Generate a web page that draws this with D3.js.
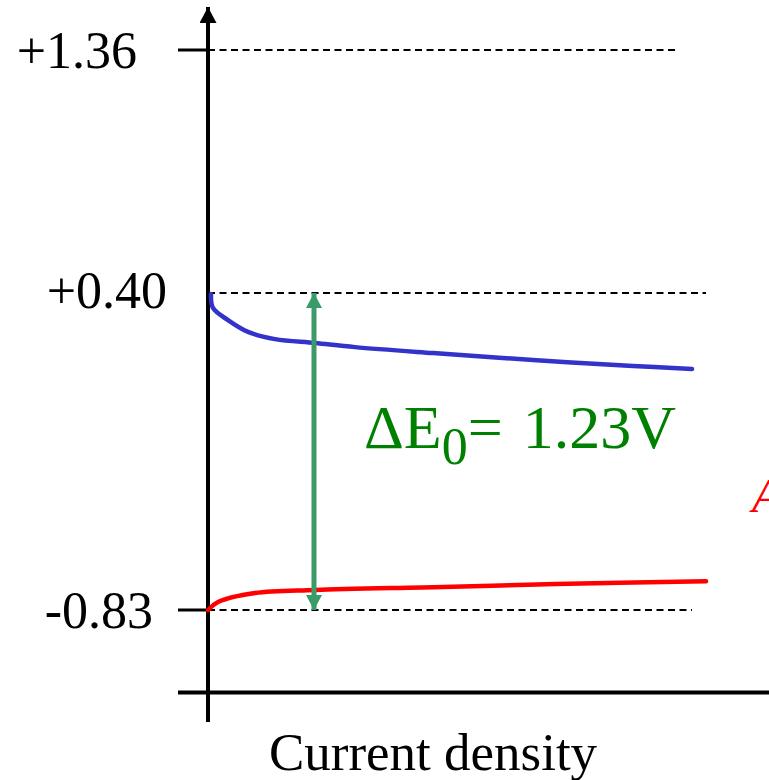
<!DOCTYPE html>
<html>
<head>
<meta charset="utf-8">
<script src="https://cdn.jsdelivr.net/npm/d3@7"></script>
<style>
  html, body { margin: 0; padding: 0; background: #fff; overflow: hidden; }
  svg { display: block; font-family: "Liberation Serif", "Times New Roman", serif; }
</style>
</head>
<body>
<div id="chart"></div>
<script>
// potential levels (V) shown on the y axis
const levels = [1.36, 0.40, -0.83];
const levelLabels = ['+1.36', '+0.40', '-0.83'];
// how far each dashed guide runs (current density, arbitrary units)
const levelGuideEnd = [94, 99.6, 96.8];
const levelHasTick = [true, false, true];

// cathode polarisation curve (blue): current density vs potential
const blueX = [0.6, 1.0, 4.0, 8.0, 13.4, 21.4, 29.4, 45, 65, 85, 96.8];
const blueY = [0.396, 0.342, 0.295, 0.249, 0.221, 0.206, 0.190, 0.167, 0.140, 0.117, 0.105];

// anode polarisation curve (red)
const redX = [0, 2.0, 9.4, 21.4, 47, 69.6, 99.6];
const redY = [-0.83, -0.799, -0.764, -0.752, -0.741, -0.729, -0.718];

// equilibrium gap arrow
const gapX = 21.2;
const gapFrom = 0.40, gapTo = -0.83;
const gapLabel = '1.23V';

const W = 769, H = 780;
const svg = d3.select('#chart').append('svg').attr('width', W).attr('height', H);

// piecewise scale so the three level lines sit where the reference has them
const y = d3.scaleLinear().domain([-0.83, 0.40, 1.36]).range([610, 293, 50]);
const x = d3.scaleLinear().domain([0, 100]).range([208, 708]);

const defs = svg.append('defs');
function marker(id, color, w, h) {
  defs.append('marker').attr('id', id)
    .attr('viewBox', `0 0 ${h} ${w}`).attr('refX', h).attr('refY', w / 2)
    .attr('markerWidth', h).attr('markerHeight', w).attr('markerUnits', 'userSpaceOnUse')
    .attr('orient', 'auto-start-reverse')
    .append('path').attr('d', `M0,0L${h},${w / 2}L0,${w}Z`).attr('fill', color);
}
marker('axisHead', '#000', 17, 16);
marker('gapHead', '#3a9a68', 16, 15);

// dashed guides
svg.append('g').selectAll('line').data(levels).join('line')
  .attr('x1', x(0)).attr('x2', (d, i) => x(levelGuideEnd[i]))
  .attr('y1', d => y(d)).attr('y2', d => y(d))
  .attr('stroke', '#000').attr('stroke-width', 2).attr('stroke-dasharray', '7,4.5');

// short solid ticks
svg.append('g').selectAll('line').data(levels.filter((d, i) => levelHasTick[i])).join('line')
  .attr('x1', x(0) - 30).attr('x2', x(0))
  .attr('y1', d => y(d)).attr('y2', d => y(d))
  .attr('stroke', '#000').attr('stroke-width', 3);

// tick labels (hand nudged like the original slide)
const labelNudge = [{ dx: -41, dy: 18 }, { dx: -11, dy: 15 }, { dx: -25, dy: 18 }];
svg.append('g').selectAll('text').data(levels).join('text')
  .attr('x', (d, i) => x(0) - 30 + labelNudge[i].dx)
  .attr('y', (d, i) => y(d) + labelNudge[i].dy)
  .attr('text-anchor', 'end').attr('font-size', 52).attr('fill', '#000')
  .text((d, i) => levelLabels[i]);

// axes
svg.append('line')
  .attr('x1', x(0)).attr('x2', x(0)).attr('y1', y(-1.265)).attr('y2', y(1.53))
  .attr('stroke', '#000').attr('stroke-width', 4).attr('marker-end', 'url(#axisHead)');
svg.append('line')
  .attr('x1', x(-6)).attr('x2', x(115.6)).attr('y1', y(-1.15)).attr('y2', y(-1.15))
  .attr('stroke', '#000').attr('stroke-width', 4).attr('marker-end', 'url(#axisHead)');

svg.append('text')
  .attr('x', 433).attr('y', 770).attr('text-anchor', 'middle')
  .attr('font-size', 53).attr('fill', '#000').text('Current density');

// curves
const line = d3.line().x(d => x(d[0])).y(d => y(d[1])).curve(d3.curveCatmullRom.alpha(0.5));
svg.append('path').datum(blueX.map((v, i) => [v, blueY[i]]))
  .attr('d', line).attr('fill', 'none').attr('stroke', '#3333cc').attr('stroke-width', 4.5)
  .attr('stroke-linecap', 'round');
svg.append('path').datum(redX.map((v, i) => [v, redY[i]]))
  .attr('d', line).attr('fill', 'none').attr('stroke', '#ff0000').attr('stroke-width', 4.5)
  .attr('stroke-linecap', 'round');

// double headed gap arrow
svg.append('line')
  .attr('x1', x(gapX)).attr('x2', x(gapX)).attr('y1', y(gapFrom)).attr('y2', y(gapTo))
  .attr('stroke', '#3a9a68').attr('stroke-width', 5)
  .attr('marker-start', 'url(#gapHead)').attr('marker-end', 'url(#gapHead)');

const lbl = svg.append('text').attr('x', 364).attr('y', 448)
  .attr('font-size', 62).attr('fill', '#008000');
lbl.append('tspan').text('ΔE');
lbl.append('tspan').attr('font-size', 52).attr('dy', 16).text('0');
lbl.append('tspan').attr('dy', -16).text('=');
lbl.append('tspan').attr('dx', 20).text(gapLabel);

// red label cut off at the right edge (as in the reference)
svg.append('text').attr('x', 752).attr('y', 512)
  .attr('font-size', 48).attr('font-style', 'italic').attr('fill', '#ff0000').text('A');
</script>
</body>
</html>
